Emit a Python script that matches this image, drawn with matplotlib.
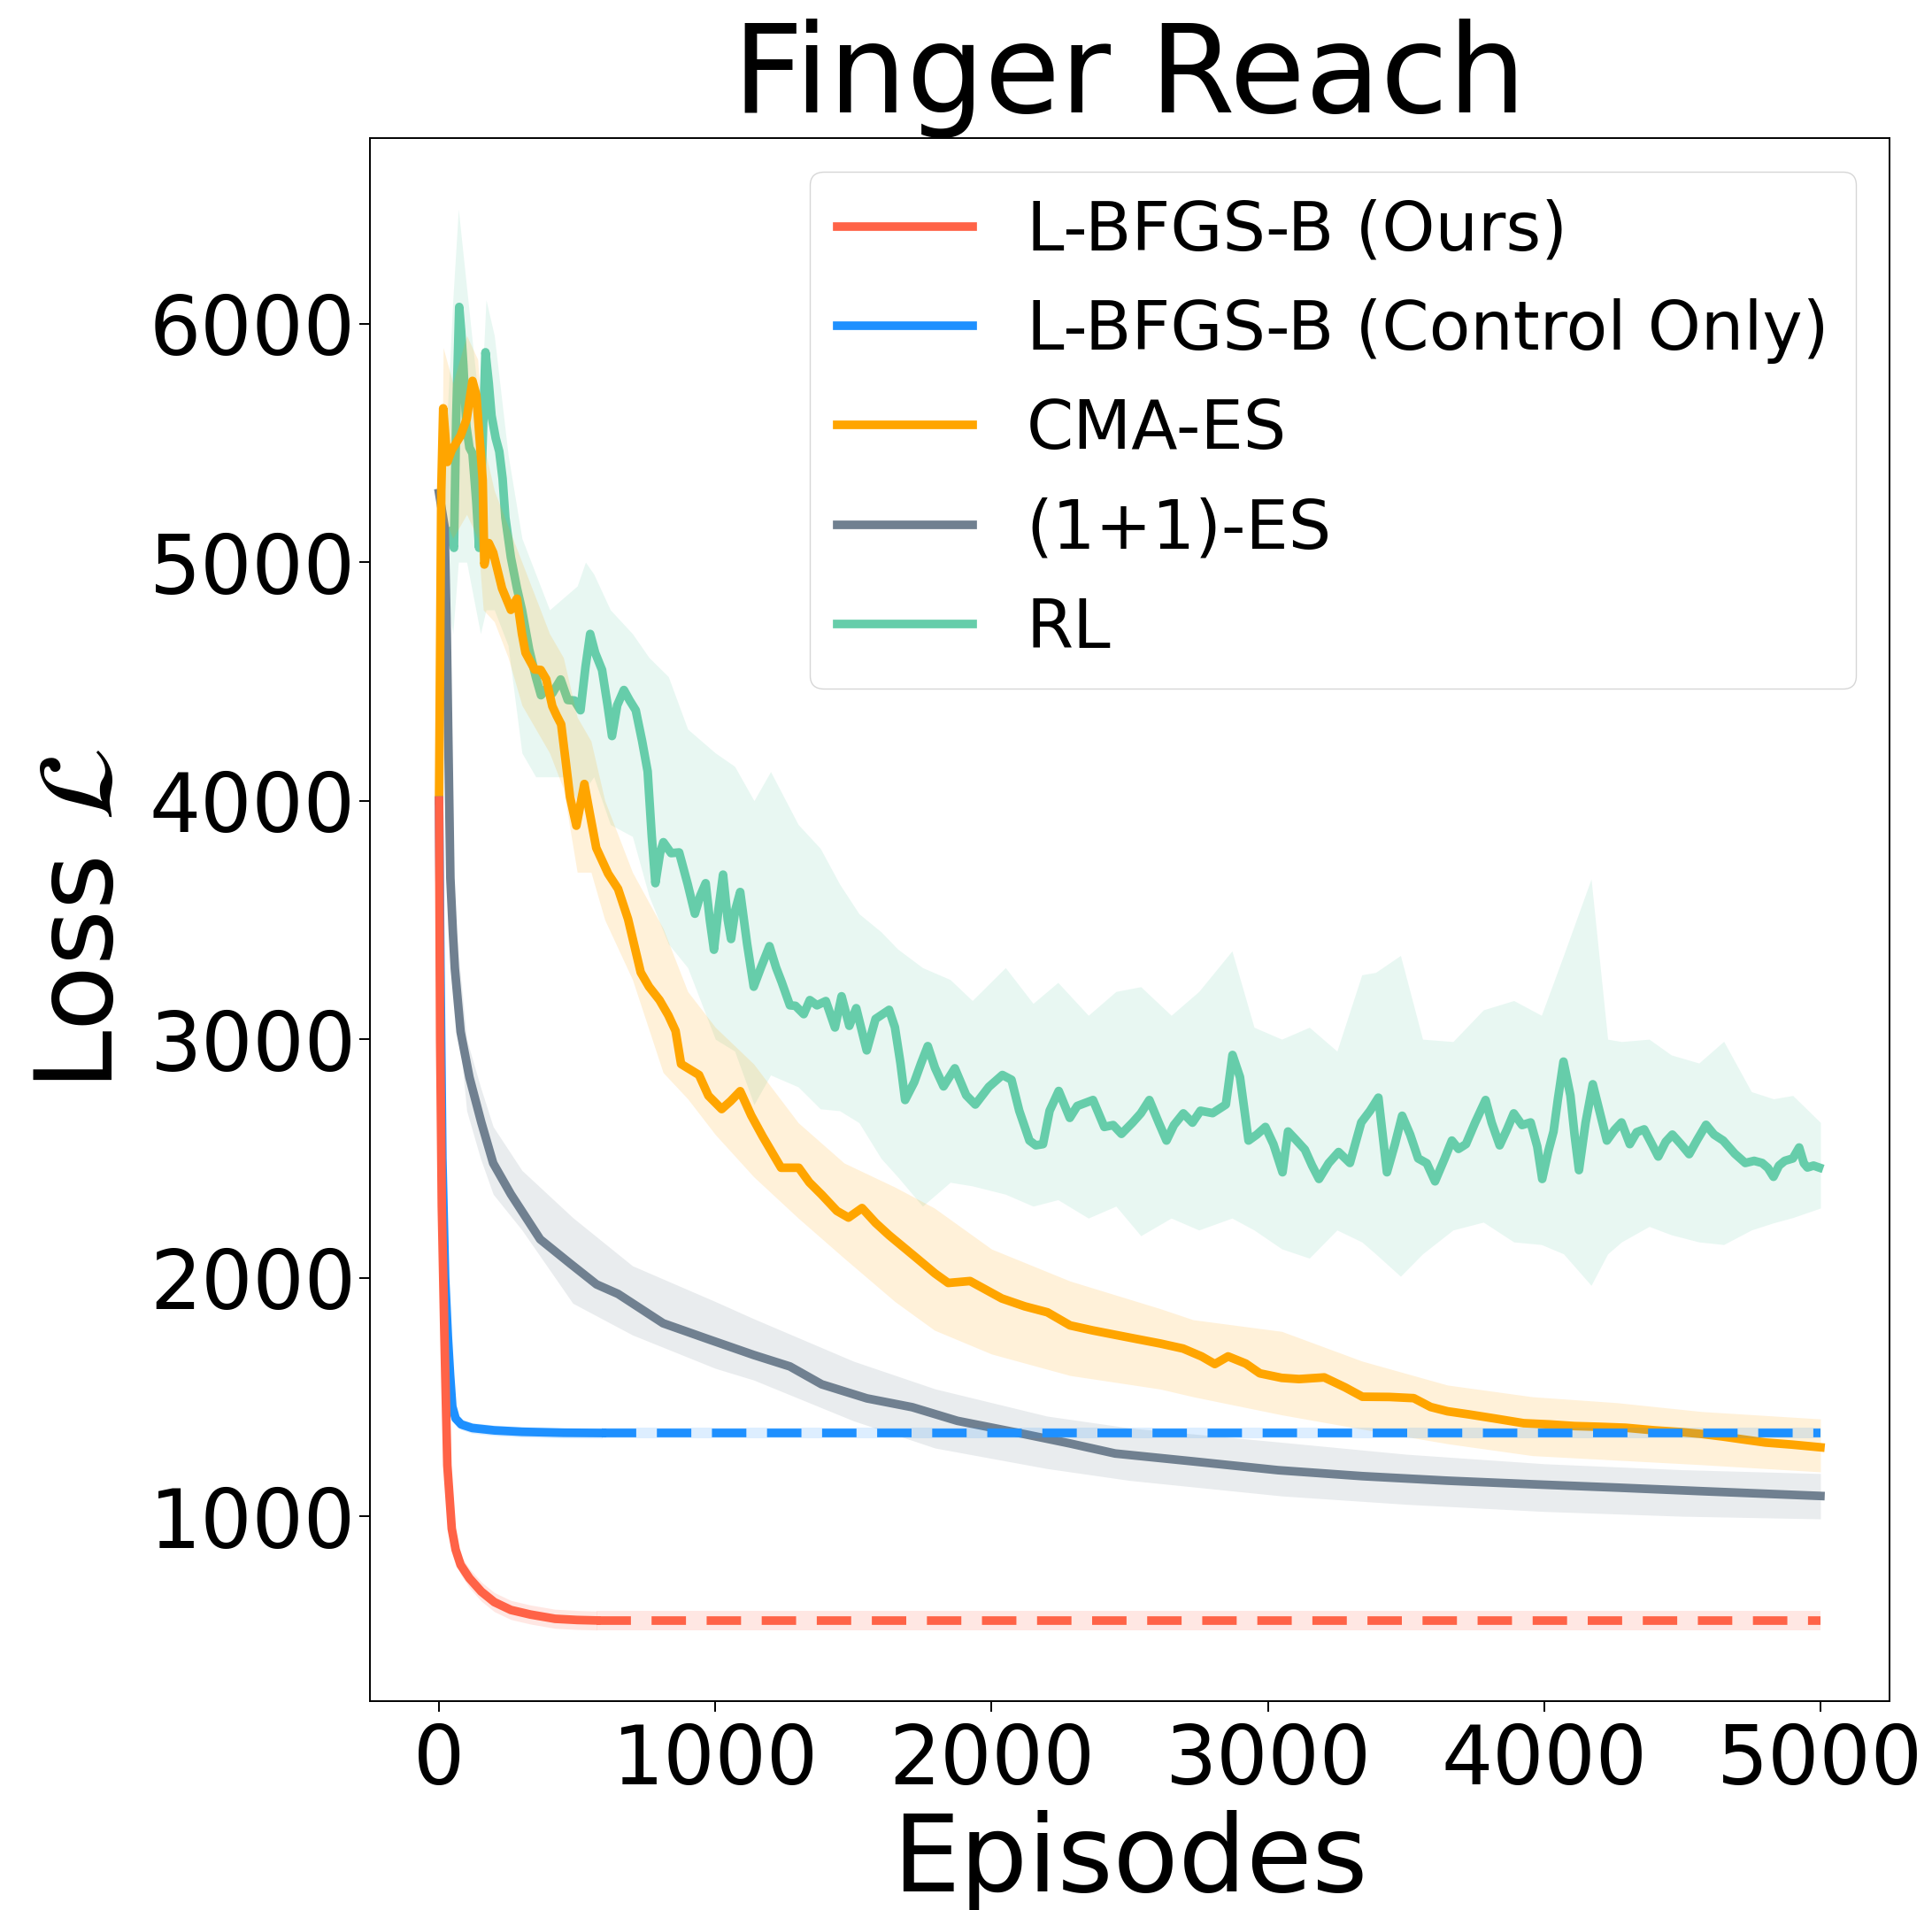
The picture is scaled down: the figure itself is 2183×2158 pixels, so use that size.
import matplotlib
matplotlib.use("Agg")
import matplotlib.pyplot as plt

EP_MAX = 5000

# L-BFGS-B (Ours): solid until it converges, then held constant (dashed)
ours_x = [0, 4, 10, 19, 30, 46, 60, 78, 110, 153, 200, 260, 330, 420, 500, 570]
ours_y = [4000, 3000, 2300, 1780, 1213, 948, 860, 796, 740, 684, 640, 607, 588, 570, 565, 563]
ours_err = 40

# L-BFGS-B (Control Only)
ctrl_x = [0, 5, 12, 22, 32, 40, 48, 60, 80, 120, 200, 300, 450, 590]
ctrl_y = [4000, 3300, 2500, 2000, 1750, 1592, 1460, 1410, 1385, 1370, 1360, 1354, 1350, 1349]
ctrl_err = 22

# CMA-ES
cma_x = [0, 8, 15, 30, 46, 78, 100, 121, 135, 148, 158, 164, 180, 196, 228, 260, 282,
         300, 313, 346, 368, 388, 410, 426, 442, 460, 474, 497, 526, 545, 569, 612, 648,
         684, 730, 760, 798, 830, 856, 876, 941, 975, 1023, 1055, 1090, 1130, 1171, 1238,
         1302, 1340, 1385, 1440, 1482, 1531, 1580, 1629, 1729, 1795, 1843, 1922, 2037,
         2120, 2202, 2284, 2366, 2450, 2530, 2611, 2693, 2760, 2808, 2856, 2920, 2971,
         3050, 3113, 3204, 3280, 3342, 3440, 3528, 3589, 3650, 3727, 3820, 3926, 4020,
         4110, 4200, 4294, 4400, 4493, 4570, 4647, 4720, 4801, 4900, 5000]
cma_y = [4000, 5300, 5645, 5420, 5470, 5530, 5600, 5760, 5700, 5500, 5343, 4990, 5080,
         5040, 4890, 4800, 4847, 4700, 4620, 4550, 4548, 4509, 4396, 4356, 4320, 4150,
         4016, 3895, 4070, 3950, 3802, 3694, 3630, 3504, 3280, 3220, 3164, 3100, 3035,
         2896, 2850, 2763, 2707, 2740, 2782, 2680, 2593, 2461, 2461, 2400, 2348, 2280,
         2252, 2292, 2230, 2178, 2082, 2018, 1978, 1986, 1913, 1880, 1855, 1800, 1779,
         1760, 1742, 1724, 1703, 1670, 1638, 1670, 1640, 1599, 1580, 1575, 1582, 1540,
         1501, 1500, 1495, 1458, 1440, 1427, 1410, 1390, 1385, 1378, 1375, 1371, 1360,
         1353, 1345, 1334, 1322, 1309, 1300, 1289]
cma_band_x = [0, 15, 50, 100, 140, 160, 200, 250, 300, 350, 400, 450, 500, 550, 600, 700,
              811, 900, 1000, 1139, 1300, 1466, 1650, 1793, 2000, 2284, 2611, 2729, 3050,
              3342, 3650, 3957, 4264, 4570, 5000]
cma_hi = [4050, 5900, 5750, 5950, 5850, 5500, 5300, 5150, 5000, 4850, 4700, 4600, 4350,
          4250, 4000, 3700, 3464, 3200, 3050, 2896, 2650, 2481, 2380, 2292, 2120, 1986,
          1870, 1824, 1775, 1650, 1550, 1501, 1476, 1439, 1408]
cma_lo = [3950, 5200, 5100, 5200, 5100, 4800, 4750, 4600, 4400, 4300, 4200, 4050, 3700,
          3700, 3500, 3250, 2860, 2750, 2600, 2423, 2250, 2082, 1900, 1780, 1680, 1590,
          1533, 1501, 1425, 1365, 1304, 1254, 1235, 1216, 1186]

# (1+1)-ES
es_x = [0, 20, 28, 33, 41, 50, 57, 78, 110, 153, 196, 260, 366, 474, 570, 648, 811, 975,
        1139, 1270, 1385, 1549, 1713, 1876, 2120, 2284, 2447, 2729, 3037, 3342, 3650,
        3957, 4264, 4570, 5000]
es_y = [5290, 5150, 4700, 4300, 3676, 3450, 3298, 3031, 2840, 2651, 2480, 2350, 2161,
        2060, 1972, 1932, 1809, 1742, 1676, 1628, 1553, 1494, 1457, 1400, 1344, 1305,
        1263, 1230, 1193, 1168, 1149, 1134, 1120, 1105, 1085]
es_band_x = [0, 50, 100, 150, 196, 300, 484, 700, 1000, 1139, 1500, 1795, 2200, 2500,
             3050, 3500, 4000, 4500, 5000]
es_hi = [5290, 3600, 3000, 2800, 2633, 2450, 2252, 2050, 1900, 1828, 1650, 1534, 1420,
         1370, 1310, 1260, 1220, 1195, 1179]
es_lo = [5290, 3300, 2700, 2500, 2350, 2200, 1893, 1760, 1620, 1571, 1400, 1286, 1200,
         1150, 1085, 1050, 1020, 1000, 989]

# RL
rl_x = [20, 35, 54, 62, 73, 80, 88, 99, 110, 121, 135, 145, 155, 168, 180, 190, 205, 218,
        230, 240, 260, 282, 300, 326, 350, 369, 390, 410, 440, 466, 490, 512, 530, 547,
        565, 590, 610, 626, 645, 669, 690, 712, 735, 755, 770, 783, 800, 812, 840, 869,
        900, 926, 945, 965, 980, 995, 1012, 1028, 1045, 1057, 1072, 1090, 1115, 1139,
        1165, 1196, 1220, 1240, 1270, 1290, 1320, 1342, 1368, 1400, 1433, 1457, 1485,
        1510, 1548, 1580, 1629, 1650, 1670, 1687, 1720, 1745, 1769, 1795, 1826, 1867,
        1908, 1941, 1990, 2039, 2072, 2100, 2137, 2160, 2186, 2210, 2243, 2283, 2310,
        2367, 2408, 2440, 2470, 2510, 2540, 2571, 2605, 2633, 2660, 2694, 2727, 2756,
        2800, 2848, 2872, 2899, 2930, 2960, 2991, 3020, 3053, 3073, 3100, 3134, 3160,
        3185, 3220, 3256, 3297, 3338, 3370, 3400, 3431, 3460, 3486, 3515, 3544, 3575,
        3605, 3640, 3666, 3690, 3717, 3750, 3788, 3810, 3839, 3865, 3890, 3920, 3951,
        3975, 3993, 4015, 4034, 4050, 4070, 4085, 4095, 4110, 4126, 4150, 4176, 4200,
        4227, 4255, 4280, 4310, 4335, 4362, 4390, 4413, 4440, 4464, 4495, 4525, 4555,
        4586, 4615, 4648, 4690, 4728, 4760, 4789, 4810, 4830, 4850, 4871, 4900, 4923,
        4940, 4953, 4975, 4995]
rl_y = [5100, 5130, 5060, 5600, 6070, 5970, 5826, 5569, 5480, 5456, 5250, 5060, 5400,
        5880, 5750, 5614, 5520, 5464, 5350, 5187, 5020, 4891, 4800, 4635, 4520, 4442,
        4470, 4450, 4508, 4422, 4420, 4379, 4560, 4699, 4620, 4548, 4400, 4271, 4400,
        4464, 4420, 4379, 4250, 4123, 3850, 3654, 3780, 3826, 3780, 3783, 3650, 3526,
        3600, 3654, 3500, 3375, 3550, 3690, 3500, 3420, 3540, 3617, 3400, 3220, 3300,
        3390, 3300, 3240, 3142, 3140, 3105, 3164, 3142, 3160, 3049, 3180, 3056, 3130,
        2953, 3085, 3123, 3050, 2900, 2745, 2820, 2900, 2971, 2880, 2802, 2878, 2765,
        2726, 2800, 2850, 2830, 2700, 2575, 2555, 2560, 2700, 2783, 2670, 2720, 2745,
        2632, 2640, 2603, 2650, 2689, 2745, 2650, 2575, 2640, 2689, 2650, 2700, 2690,
        2726, 2934, 2841, 2575, 2600, 2632, 2560, 2442, 2613, 2580, 2537, 2470, 2414,
        2480, 2527, 2481, 2651, 2700, 2755, 2442, 2560, 2679, 2600, 2500, 2480, 2404,
        2500, 2575, 2540, 2560, 2650, 2745, 2650, 2555, 2620, 2689, 2640, 2651, 2550,
        2414, 2530, 2613, 2750, 2906, 2820, 2764, 2600, 2451, 2650, 2811, 2700, 2575,
        2620, 2651, 2560, 2610, 2622, 2560, 2508, 2570, 2600, 2560, 2518, 2580, 2641,
        2600, 2575, 2520, 2481, 2490, 2481, 2460, 2423, 2470, 2490, 2500, 2546, 2480,
        2462, 2470, 2462]
rl_band_x = [20, 50, 70, 100, 150, 170, 200, 250, 300, 350, 400, 450, 500, 530, 560, 620,
             700, 760, 830, 900, 1000, 1070, 1140, 1200, 1300, 1380, 1450, 1520, 1600,
             1660, 1750, 1850, 1930, 2050, 2150, 2240, 2350, 2450, 2540, 2650, 2750, 2870,
             2950, 3050, 3150, 3250, 3340, 3390, 3480, 3560, 3670, 3780, 3890, 3990, 4070,
             4170, 4230, 4280, 4380, 4460, 4560, 4650, 4750, 4830, 4900, 5000]
rl_hi = [5400, 6100, 6480, 6150, 5600, 6100, 5950, 5450, 5100, 4950, 4800, 4850, 4900,
         5000, 4950, 4800, 4700, 4600, 4520, 4300, 4200, 4144, 4000, 4122, 3900, 3800,
         3650, 3526, 3450, 3378, 3300, 3250, 3162, 3300, 3150, 3238, 3100, 3200, 3220,
         3100, 3200, 3370, 3050, 3000, 3050, 2950, 3270, 3280, 3351, 3000, 2990, 3123,
         3162, 3100, 3351, 3672, 3000, 2990, 3000, 2934, 2900, 2991, 2780, 2750, 2764,
         2651]
rl_lo = [4900, 4700, 5000, 5000, 4700, 4800, 4800, 4650, 4200, 4100, 4100, 4100, 4000,
         4050, 4100, 3900, 3850, 3600, 3400, 3300, 3000, 2950, 2726, 2850, 2800, 2708,
         2700, 2650, 2500, 2423, 2300, 2400, 2385, 2350, 2300, 2327, 2250, 2300, 2176,
         2250, 2200, 2250, 2200, 2121, 2082, 2200, 2150, 2100, 2006, 2100, 2200, 2233,
         2150, 2139, 2100, 1968, 2100, 2150, 2215, 2180, 2150, 2139, 2200, 2230, 2252,
         2292]

labels = ['L-BFGS-B (Ours)', 'L-BFGS-B (Control Only)', 'CMA-ES', '(1+1)-ES', 'RL']
colors = ['tomato', 'dodgerblue', 'orange', 'slategray', 'mediumaquamarine']

LW = 7
DASH = (0, (4.0, 2.4))
ALPHA = 0.15

fig = plt.figure(figsize=(21.83, 21.58), dpi=100)
ax = fig.add_axes([0.1915, 0.1094, 0.7865, 0.8183])

# RL (bottom layer)
ax.fill_between(rl_band_x, rl_lo, rl_hi, color=colors[4], alpha=ALPHA, lw=0, zorder=1)
l_rl, = ax.plot(rl_x, rl_y, color=colors[4], lw=LW, zorder=2)

# (1+1)-ES
ax.fill_between(es_band_x, es_lo, es_hi, color=colors[3], alpha=ALPHA, lw=0, zorder=3)
l_es, = ax.plot(es_x, es_y, color=colors[3], lw=LW, zorder=4)

# CMA-ES
ax.fill_between(cma_band_x, cma_lo, cma_hi, color=colors[2], alpha=ALPHA, lw=0, zorder=5)
l_cma, = ax.plot(cma_x, cma_y, color=colors[2], lw=LW, zorder=6)

# L-BFGS-B (Control Only)
ext_x = [ctrl_x[-1], EP_MAX]
ax.fill_between(ctrl_x, [v - ctrl_err for v in ctrl_y], [v + ctrl_err for v in ctrl_y],
                color=colors[1], alpha=ALPHA, lw=0, zorder=7)
ax.fill_between(ext_x, ctrl_y[-1] - ctrl_err, ctrl_y[-1] + ctrl_err,
                color=colors[1], alpha=ALPHA, lw=0, zorder=7)
l_ctrl, = ax.plot(ctrl_x, ctrl_y, color=colors[1], lw=LW, zorder=8)
ax.plot(ext_x, [ctrl_y[-1]] * 2, color=colors[1], lw=LW, ls=DASH, zorder=8)

# L-BFGS-B (Ours)
ext_x = [ours_x[-1], EP_MAX]
ax.fill_between(ours_x, [v - ours_err for v in ours_y], [v + ours_err for v in ours_y],
                color=colors[0], alpha=ALPHA, lw=0, zorder=9)
ax.fill_between(ext_x, ours_y[-1] - ours_err, ours_y[-1] + ours_err,
                color=colors[0], alpha=ALPHA, lw=0, zorder=9)
l_ours, = ax.plot(ours_x, ours_y, color=colors[0], lw=LW, zorder=10)
ax.plot(ext_x, [ours_y[-1]] * 2, color=colors[0], lw=LW, ls=DASH, zorder=10)

ax.set_xticks([0, 1000, 2000, 3000, 4000, 5000])
ax.set_yticks([1000, 2000, 3000, 4000, 5000, 6000])
ax.tick_params(labelsize=66, length=8.6, width=1.4)
ax.tick_params(axis='x', pad=8)
ax.tick_params(axis='y', pad=3)
for s in ax.spines.values():
    s.set_linewidth(1.4)

ax.set_title('Finger Reach', fontsize=100, pad=18)
ax.set_xlabel('Episodes', fontsize=87, labelpad=7)
ax.set_ylabel(r'Loss $\mathcal{L}$', fontsize=87, labelpad=12)

leg = ax.legend([l_ours, l_ctrl, l_cma, l_es, l_rl], labels, loc='upper right', fontsize=55)
for line in leg.get_lines():
    line.set_linewidth(LW)

fig.savefig('out.png', dpi=100)
